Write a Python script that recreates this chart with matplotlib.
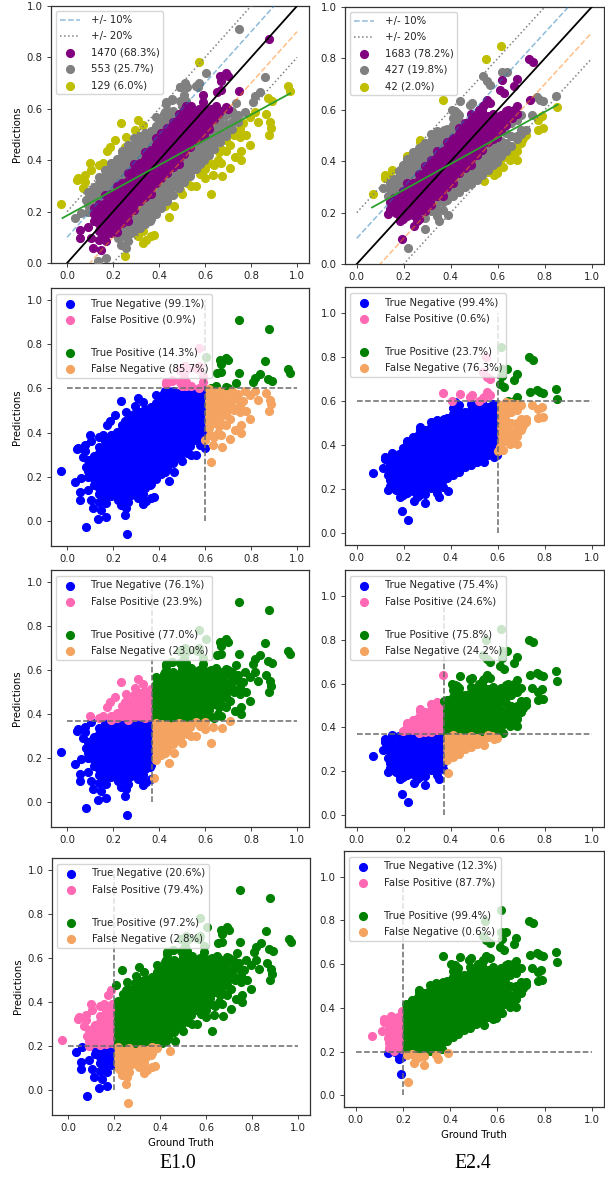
"""Error bands and confusion scatter panels for the E1.0 and E2.4 runs."""
import matplotlib
matplotlib.use("Agg")
import matplotlib.pyplot as plt
from matplotlib.lines import Line2D
import numpy as np

plt.rcParams.update({"font.size": 7.3, "axes.linewidth": 0.9,
                     "axes.edgecolor": "#333333", "xtick.major.size": 2.6,
                     "ytick.major.size": 2.6, "xtick.major.width": 0.6,
                     "ytick.major.width": 0.6, "xtick.color": "#222222",
                     "ytick.color": "#222222", "text.color": "#222222"})

# dense part of each cloud
E10_COL_X = [.09, .115, .14, .165, .19, .215, .24, .265, .29, .315, .34, .365, .385,
             .41, .435, .46, .485, .51, .535, .56, .58, .595, .615, .64, .665, .69, .715, .745]
E10_COL_Y = [
    [.20, .225, .25, .275],
    [.165, .19, .215, .24, .27, .295],
    [.125, .15, .175, .205, .23, .26, .285, .31, .335],
    [.11, .135, .16, .185, .21, .235, .265, .29, .315, .34, .36],
    [.115, .14, .165, .19, .215, .24, .27, .295, .32, .345, .375, .39],
    [.12, .145, .17, .195, .22, .25, .275, .30, .325, .35, .38, .405],
    [.105, .13, .155, .18, .21, .235, .26, .285, .31, .34, .365, .39, .415, .435],
    [.085, .11, .14, .165, .19, .215, .245, .27, .295, .32, .35, .375, .40, .425, .45, .46],
    [.125, .15, .175, .205, .23, .255, .28, .305, .33, .36, .385, .41, .435, .46, .485],
    [.135, .16, .185, .21, .24, .265, .29, .315, .34, .365, .39, .42, .445, .47, .495],
    [.15, .175, .205, .23, .255, .28, .305, .33, .355, .38, .405, .43, .455, .48, .505],
    [.17, .195, .22, .245, .27, .295, .32, .345, .365, .39, .415, .44, .465, .49, .515],
    [.19, .21, .235, .26, .285, .31, .335, .36, .385, .41, .435, .46, .485, .51, .535],
    [.215, .23, .255, .28, .305, .33, .355, .38, .405, .43, .455, .48, .505, .53, .55],
    [.24, .25, .275, .30, .325, .35, .375, .40, .425, .45, .475, .50, .525, .55, .57],
    [.265, .295, .32, .345, .375, .40, .425, .45, .475, .50, .525, .55, .57, .59],
    [.29, .31, .335, .36, .385, .41, .435, .46, .485, .51, .535, .56, .58],
    [.315, .325, .35, .375, .40, .425, .45, .475, .50, .525, .55, .575, .595],
    [.34, .35, .375, .40, .425, .45, .475, .50, .525, .55, .575, .59],
    [.365, .38, .405, .43, .455, .48, .505, .53, .555, .58],
    [.385, .39, .415, .44, .465, .49, .515, .54, .565, .59],
    [.40, .425, .45, .475, .50, .525, .55, .575, .595],
    [.42, .445, .47, .495, .52, .545, .57, .595],
    [.445, .46, .485, .51, .535, .56, .585],
    [.47, .49, .515, .54, .565, .59],
    [.495, .51, .54, .575],
    [.52, .55, .59],
    [.55, .575],
]
# scattered points around the E1.0 cloud
E10_EXTRA_X = [-.025, .043, .047, .07, .08, .08, .10, .106, .138, .157, .174, .185, .21, .233, .255,
               .25, .294, .309, .33, .428, .574, .25, .33, .345, .367, .38, .309, .328, .425, .464,
               .443, .49, .562, .625, .599, .635, .639, .675, .707, .67, .693, .729, .758, .758,
               .794, .78, .751, .765, .83, .867, .878, .888, .881, .874, .893, .816, .961, .971,
               .794, .72, .693, .49, .52, .56, .50, .54, .58, .60, .655, .52, .62, .66,
               .746, .606, .859, .84, .819, .809, .512, .49, .574, .57, .457, .497, .425, .388,
               .733, .772, .135, .171, .258, .236, .222, .28, .345, .359, .316, .033, .062, .084,
               .113, .082, .26, .43, .44, .42, .455, .51, .70, .72, .735, .75, .725, .71, .69, .675,
               .878, .664, .671, .693, .70, .748, .652, .671, .591, .591, .519, .54, .649, .693,
               .055, .055, .091, .106, .113, .146, .139, .171, .157, .49, .515, .50, .575, .625, .655]
E10_EXTRA_Y = [.228, .324, .33, .29, .343, .317, .389, .363, .38, .389, .434, .453, .479, .544, .492,
               .453, .518, .557, .538, .628, .781, .028, .078, .09, .104, .11, .104, .123, .223, .223,
               .18, .285, .30, .268, .33, .343, .38, .337, .369, .389, .434, .414, .434, .40,
               .46, .499, .492, .544, .548, .579, .499, .527, .548, .641, .631, .589, .687, .671,
               .57, .512, .479, .685, .685, .69, .27, .30, .345, .365, .40, .31, .39, .43,
               .909, .741, .723, .666, .648, .628, .70, .684, .70, .686, .637, .631, .589, .57,
               .622, .589, .009, .019, .058, .071, .097, .117, .181, .162, .175, .175, .194, .246,
               .285, -.025, -.057, .62, .59, .58, .635, .655, .60, .58, .56, .52, .50, .46, .50, .44,
               .87, .728, .709, .738, .728, .671, .667, .674, .654, .628, .609, .611, .609, .606,
               .13, .097, .139, .097, .058, .052, .088, .084, .13, .63, .63, .61, .60, .60, .58]

E24_COL_X = [.14, .16, .18, .195, .215, .24, .265, .29, .315, .34, .365, .385, .41, .435, .46,
             .485, .51, .535, .56, .58, .595, .615, .635, .655, .68, .70]
E24_COL_Y = [
    [.215, .24, .265, .29, .315],
    [.205, .23, .255, .28, .305, .33],
    [.19, .215, .24, .265, .29, .315, .34, .36],
    [.175, .21, .235, .26, .285, .31, .335, .36, .385],
    [.185, .215, .24, .265, .29, .315, .34, .365, .39, .41],
    [.19, .215, .24, .265, .29, .315, .34, .365, .39, .415, .435],
    [.175, .205, .225, .25, .275, .30, .325, .35, .375, .40, .425, .45],
    [.18, .205, .23, .255, .28, .305, .33, .355, .38, .405, .43, .455, .47],
    [.205, .23, .255, .28, .305, .33, .355, .38, .405, .43, .455, .48, .505],
    [.215, .24, .265, .29, .315, .34, .365, .39, .415, .44, .465, .49, .51],
    [.21, .24, .265, .29, .315, .34, .365, .39, .415, .44, .465, .49, .515],
    [.25, .275, .30, .325, .35, .375, .40, .425, .45, .475, .50, .525],
    [.265, .29, .315, .34, .365, .39, .415, .44, .465, .49, .515, .54, .57],
    [.28, .305, .33, .355, .38, .405, .43, .455, .48, .505, .53, .555, .58],
    [.30, .325, .35, .375, .40, .425, .45, .475, .50, .525, .55],
    [.31, .335, .36, .385, .41, .435, .46, .485, .51, .535, .56, .585],
    [.325, .35, .375, .40, .425, .45, .475, .50, .525, .55, .575],
    [.345, .375, .395, .42, .445, .47, .495, .52, .545, .57, .59],
    [.365, .375, .40, .425, .45, .475, .50, .525, .55, .575],
    [.385, .41, .435, .46, .485, .51, .535, .56, .585],
    [.395, .42, .445, .47, .495, .52, .545, .57],
    [.42, .45, .48, .52, .55, .58],
    [.44, .47, .51, .54, .57, .595],
    [.46, .50, .55, .59],
    [.485, .50, .56, .585],
    [.505, .52, .58],
]
E24_EXTRA_X = [.068, .113, .12, .12, .135, .149, .213, .27, .27, .369, .549, .614, .543, .56, .582,
               .596, .621, .638, .652, .681, .66, .681, .702, .72, .709, .773, .791, .787, .773,
               .854, .617, .61, .60, .575,
               .191, .735, .752, .681, .67, .62, .61, .627, .738, .681, .667, .553, .539, .567,
               .532, .135, .165, .184, .255, .245, .266,
               .22, .29, .135, .39, .34, .348, .617, .638, .539, .553, .567, .766, .78, .794,
               .848, .745, .404, .44, .489, .426, .34, .37, .42, .48, .52, .54, .62, .645, .66,
               .72, .70, .68]
E24_EXTRA_Y = [.272, .296, .348, .335, .341, .364, .419, .484, .473, .637, .798, .847, .322, .357, .348,
               .354, .376, .419, .406, .406, .432, .458, .484, .503, .49, .523, .529, .575, .562,
               .61, .412, .39, .375, .36,
               .099, .798, .787, .721, .694, .715, .678, .665, .64, .616, .60, .639, .614, .626,
               .594, .196, .198, .166, .166, .147, .175,
               .062, .137, .263, .192, .185, .166, .747, .747, .73, .711, .698, .65, .64, .635,
               .655, .581, .60, .633, .626, .587, .516, .52, .595, .62, .60, .62, .565, .60, .57,
               .52, .47, .44]

FIT_E10_X = [-.02, .97]
FIT_E10_Y = [.175, .66]
FIT_E24_X = [.065, .855]
FIT_E24_Y = [.22, .62]

BAND_LABELS_E10 = ["1470 (68.3%)", "553 (25.7%)", "129 (6.0%)"]
BAND_LABELS_E24 = ["1683 (78.2%)", "427 (19.8%)", "42 (2.0%)"]

THRESHOLDS = [.6, .37, .2]
SHARES_E10 = [[99.1, 0.9, 14.3, 85.7], [76.1, 23.9, 77.0, 23.0], [20.6, 79.4, 97.2, 2.8]]
SHARES_E24 = [[99.4, 0.6, 23.7, 76.3], [75.4, 24.6, 75.8, 24.2], [12.3, 87.7, 99.4, 0.6]]
TICKS = [0.0, 0.2, 0.4, 0.6, 0.8, 1.0]

# pixel boxes of the axes: left, top, right, bottom
BOXES_L = [(51, 6, 309, 263), (51, 288, 309, 546), (51, 570, 309, 827), (52, 858, 310, 1115)]
BOXES_R = [(345, 7, 604, 264), (345, 287, 604, 545), (345, 570, 604, 827), (344, 851, 604, 1107)]
W, H = 605, 1177
MS = 31


def expand(col_x, col_y, extra_x, extra_y):
    x = [cx for cx, ys in zip(col_x, col_y) for _ in ys] + extra_x
    y = [v for ys in col_y for v in ys] + extra_y
    return np.array(x), np.array(y)


def make_ax(fig, box):
    l, t, r, b = box
    return fig.add_axes([l / W, 1 - b / H, (r - l) / W, (b - t) / H])


def band_panel(ax, gt, pr, fit_x, fit_y, labels, xlim):
    err = np.abs(pr - gt)
    masks = [err <= .1, (err > .1) & (err <= .2), err > .2]
    line10, = ax.plot([0, 1], [.1, 1.1], ls="--", color="tab:blue", alpha=.5, lw=1.1, zorder=4)
    ax.plot([0, 1], [-.1, .9], ls="--", color="tab:orange", alpha=.5, lw=1.1, zorder=4)
    line20, = ax.plot([0, 1], [.2, 1.2], ls=":", color="gray", lw=1.1, zorder=4)
    ax.plot([0, 1], [-.2, .8], ls=":", color="gray", lw=1.1, zorder=4)
    ax.plot([0, 1], [0, 1], color="black", lw=1.3, zorder=5)
    ax.plot(fit_x, fit_y, color="tab:green", lw=1.3, zorder=6)
    handles = [line10, line20]
    # purple ends up on top of the other two bands
    for mask, col, lab, z in zip(masks, ["purple", "gray", "y"], labels, [3.2, 3.1, 3.0]):
        handles.append(ax.scatter(gt[mask], pr[mask], s=MS, color=col, label=lab, zorder=z))
    ax.set_xlim(*xlim)
    ax.set_ylim(0, 1)
    ax.set_xticks(TICKS)
    ax.set_yticks(TICKS)
    ax.legend(handles, ["+/- 10%", "+/- 20%"] + labels, loc="upper left", fontsize=7.3,
              labelspacing=.62, handletextpad=1.0, borderaxespad=.5)


def confusion_panel(ax, gt, pr, thr, shares, xlim, ylim, legend_xy):
    tn = (gt < thr) & (pr < thr)
    fp = (gt < thr) & (pr >= thr)
    tp = (gt >= thr) & (pr >= thr)
    fn = (gt >= thr) & (pr < thr)
    names = ["True Negative", "False Positive", "True Positive", "False Negative"]
    handles = []
    for mask, col, name, share in zip([tn, fp, tp, fn], ["blue", "hotpink", "green", "sandybrown"],
                                      names, shares):
        handles.append(ax.scatter(gt[mask], pr[mask], s=MS, color=col,
                                  label=f"{name} ({share}%)", zorder=3))
    ax.plot([0, 1], [thr, thr], ls="--", color="dimgray", lw=1.1, zorder=4)
    ax.plot([thr, thr], [0, 1], ls="--", color="dimgray", lw=1.1, zorder=4)
    ax.set_xlim(*xlim)
    ax.set_ylim(*ylim)
    ax.set_xticks(TICKS)
    ax.set_yticks(TICKS)
    blank = Line2D([], [], alpha=0)
    items = handles[:2] + [blank] + handles[2:]
    texts = [h.get_label() for h in handles[:2]] + [" "] + [h.get_label() for h in handles[2:]]
    ax.legend(items, texts, loc="upper left", bbox_to_anchor=legend_xy, borderaxespad=0,
              fontsize=7.3, labelspacing=.62, handletextpad=1.0)


e10_x, e10_y = expand(E10_COL_X, E10_COL_Y, E10_EXTRA_X, E10_EXTRA_Y)
e24_x, e24_y = expand(E24_COL_X, E24_COL_Y, E24_EXTRA_X, E24_EXTRA_Y)

fig = plt.figure(figsize=(W / 100, H / 100), dpi=100, facecolor="white")

XLIM_L = (-.07, 1.052)
XLIM_R = (-.05, 1.052)
YLIM_L = (-.112, 1.053)
YLIM_R = (-.053, 1.117)

ax = make_ax(fig, BOXES_L[0])
band_panel(ax, e10_x, e10_y, FIT_E10_X, FIT_E10_Y, BAND_LABELS_E10, XLIM_L)
ax.set_ylabel("Predictions", labelpad=3)

ax = make_ax(fig, BOXES_R[0])
band_panel(ax, e24_x, e24_y, FIT_E24_X, FIT_E24_Y, BAND_LABELS_E24, XLIM_R)

for i, thr in enumerate(THRESHOLDS):
    ax = make_ax(fig, BOXES_L[i + 1])
    confusion_panel(ax, e10_x, e10_y, thr, SHARES_E10[i], XLIM_L, YLIM_L, (.02, .975))
    ax.set_ylabel("Predictions", labelpad=3)
    if i == 2:
        ax.set_xlabel("Ground Truth", labelpad=3)

    ax = make_ax(fig, BOXES_R[i + 1])
    confusion_panel(ax, e24_x, e24_y, thr, SHARES_E24[i], XLIM_R, YLIM_R, (.02, .975))
    if i == 2:
        ax.set_xlabel("Ground Truth", labelpad=3)

fig.text(178 / W, 1 - 1163 / H, "E1.0", family="Liberation Serif", fontsize=14.2,
         ha="center", va="center", color="black")
fig.text(473 / W, 1 - 1163 / H, "E2.4", family="Liberation Serif", fontsize=14.2,
         ha="center", va="center", color="black")

fig.savefig("out.png", dpi=100)
